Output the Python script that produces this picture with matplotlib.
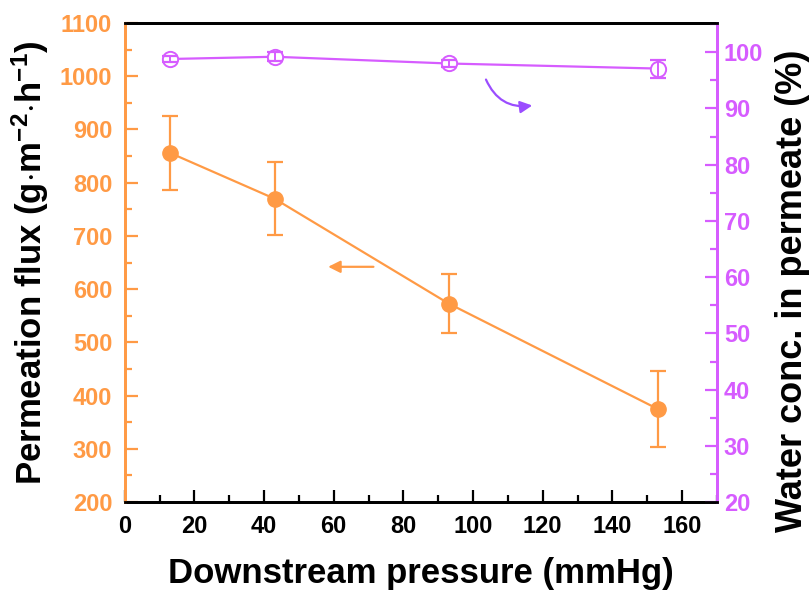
import matplotlib
matplotlib.use('Agg')
import matplotlib.pyplot as plt
from matplotlib.patches import FancyArrowPatch
from matplotlib.ticker import MultipleLocator

plt.rcParams['font.family'] = ['Liberation Sans', 'DejaVu Sans']
plt.rcParams['font.weight'] = 'bold'
plt.rcParams['mathtext.fontset'] = 'custom'
plt.rcParams['mathtext.rm'] = 'Liberation Sans:bold'
plt.rcParams['mathtext.default'] = 'rm'

pressure = [13, 43, 93, 153]
flux = [856, 770, 573, 375]
flux_err = [70, 69, 56, 71]
water = [98.8, 99.2, 98.0, 97.1]
water_err = [0.6, 0.8, 0.6, 1.6]

orange = '#FF9A45'
magenta = '#D65CFF'
violet = '#9B4DFF'

fig = plt.figure(figsize=(8.1, 5.9), dpi=100)
ax = fig.add_axes([0.154, 0.149, 0.731, 0.812])
ax2 = ax.twinx()

ax.errorbar(pressure, flux, yerr=flux_err, color=orange, marker='o', ms=11,
            lw=1.6, elinewidth=1.6, capsize=6, capthick=1.6, zorder=3)

ax2.plot(pressure, water, color=magenta, lw=1.6, marker='o', ms=11,
         mfc='white', mec=magenta, mew=1.4, zorder=3)
ax2.errorbar(pressure, water, yerr=water_err, fmt='none', ecolor=magenta,
             elinewidth=1.4, capsize=6, capthick=1.6, zorder=4)

ax.set_xlim(0, 170)
ax.set_ylim(200, 1100)
ax2.set_ylim(20, 105.2)

ax.xaxis.set_major_locator(MultipleLocator(20))
ax.xaxis.set_minor_locator(MultipleLocator(10))
ax.yaxis.set_major_locator(MultipleLocator(100))
ax.yaxis.set_minor_locator(MultipleLocator(50))
ax2.set_yticks(range(20, 101, 10))
ax2.yaxis.set_minor_locator(MultipleLocator(5))

for s in ['top', 'bottom', 'left', 'right']:
    ax.spines[s].set_linewidth(2)
    ax2.spines[s].set_linewidth(2)
ax2.spines['left'].set_color(orange)
ax2.spines['right'].set_color(magenta)
ax.spines['left'].set_color(orange)
ax.spines['right'].set_color(magenta)

ax.tick_params(axis='x', which='both', direction='in', top=False, width=1.6,
               labelsize=17, colors='black', pad=9)
ax.tick_params(axis='x', which='major', length=9)
ax.tick_params(axis='x', which='minor', length=5)
ax.tick_params(axis='y', which='both', direction='in', width=1.6, color=orange,
               labelcolor=orange, labelsize=17, pad=9)
ax.tick_params(axis='y', which='major', length=9)
ax.tick_params(axis='y', which='minor', length=5)
ax2.tick_params(axis='y', which='both', direction='in', width=1.6, color=magenta,
                labelcolor=magenta, labelsize=17, pad=5)
ax2.tick_params(axis='y', which='major', length=9)
ax2.tick_params(axis='y', which='minor', length=5)

ax.set_xlabel('Downstream pressure (mmHg)', fontsize=25, fontweight='bold', labelpad=14)
ax.set_ylabel(r'Permeation flux (g$\cdot$m$^{-2}$$\cdot$h$^{-1}$)', fontsize=25,
              fontweight='bold', labelpad=6)
ax2.set_ylabel('Water conc. in permeate (%)', fontsize=26, fontweight='bold')
ax2.yaxis.set_label_coords(1.098, 0.44)

ax.annotate('', xy=(57.6, 642), xytext=(72.2, 642),
            arrowprops=dict(arrowstyle='-|>', color=orange, lw=1.6, mutation_scale=18))
ax2.add_patch(FancyArrowPatch((103.4, 95.6), (117.8, 90.6),
                              connectionstyle='arc3,rad=0.4', arrowstyle='-|>',
                              color=violet, lw=1.6, mutation_scale=18,
                              transform=ax2.transData))

fig.savefig('out.png', dpi=100)
